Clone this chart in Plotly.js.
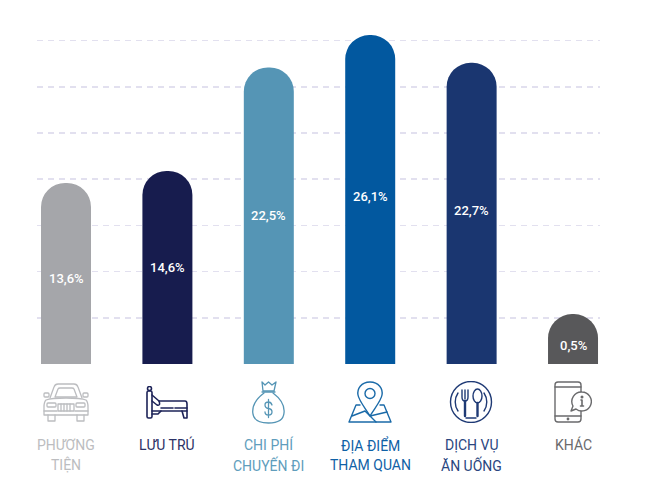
<!DOCTYPE html>
<html>
<head>
<meta charset="utf-8">
<script src="https://cdn.plot.ly/plotly-3.0.1.min.js"></script>
<style>html,body{margin:0;padding:0;background:#fff}</style>
</head>
<body>
<div id="chart" style="width:650px;height:485px"></div>
<script>
var categoryLines = [["PHƯƠNG","TIỆN"],["LƯU TRÚ"],["CHI PHÍ","CHUYẾN ĐI"],["ĐỊA ĐIỂM","THAM QUAN"],["DỊCH VỤ","ĂN UỐNG"],["KHÁC"]];
var barHeights = [19.6, 20.9, 32.1, 35.6, 32.6, 5.4];
var valueLabels = ["13,6%","14,6%","22,5%","26,1%","22,7%","0,5%"];
var barColors = ["#a5a6aa","#171c4e","#5595b5","#02589f","#1a3670","#58585a"];
var textColors = ["#bcbdc0","#2c3266","#609dbc","#0f61a6","#2a4680","#6a6a6c"];

var W=650,H=485,L=37,R=600,T=30,B=364;
function px(x){return (x-L)/(R-L);}
function py(y){return (B-y)/(B-T);}

var icons = [
 {x:43,y:383,w:46,h:39,c:"#bcbdc0",sw:1.3,body:
  '<path d="M7 15L11 4Q12 1 15 1H31Q34 1 35 4L39 15"/><path d="M12 14L15 6Q15.5 5 17 5H29Q30.5 5 31 6L34 14Z"/>'+
  '<path d="M3 17Q8 15 23 15Q38 15 43 17Q45 19 45 24V32H1V24Q1 19 3 17Z"/>'+
  '<rect x="15" y="21" width="16" height="7"/><path d="M18 21V28M21 21V28M24 21V28M27 21V28"/>'+
  '<rect x="4" y="20" width="9" height="4" rx="1"/><rect x="33" y="20" width="9" height="4" rx="1"/>'+
  '<path d="M1 28H14M32 28H45"/><path d="M5 32V38H12V32M34 32V38H41V32"/>'+
  '<rect x="1" y="10" width="5" height="4" rx="1"/><rect x="40" y="10" width="5" height="4" rx="1"/>'},
 {x:146,y:386,w:43,h:34,c:"#1d2358",sw:1.6,body:
  '<circle cx="3.5" cy="2.5" r="2"/><rect x="1" y="5" width="5" height="27" rx="1.5"/>'+
  '<path d="M6 9L13 15Q15 20 11 19L6 15"/><path d="M13 15H39Q41 15 41 18V25H6"/>'+
  '<path d="M6 28H12L15 25"/><path d="M36 25L38 32H41V25"/><path d="M15 22H41" stroke-dasharray="12 2"/>'},
 {x:252,y:381,w:33,h:43,c:"#5595b5",sw:1.3,body:
  '<path d="M10 1L13 4L16.5 1L20 4L24 1L22 10H11Z"/><path d="M10 11H23"/>'+
  '<path d="M12 12C4 18 0 24 .8 32C1.5 39 7 42 16.5 42C26 42 31.5 39 32 32C33 24 29 18 21 12"/>'+
  '<path d="M20 24Q19 21 16.5 21Q13 21 13 24Q13 27 16.5 27.5Q20 28 20 31Q20 34 16.5 34Q13 34 13 31M16.5 18.5V36.5"/>'},
 {x:348,y:381,w:44,h:42,c:"#1a6aa8",sw:1.4,body:
  '<path d="M22 1C13 1 9 8 10 14C11 20 18 28 22 35C26 28 33 20 34 14C35 8 31 1 22 1Z"/><circle cx="22" cy="12.5" r="5"/>'+
  '<path d="M12 24H8L1 41H43L36 24H32"/><path d="M4 35L17 30L28 41M22 35L39 31"/>'},
 {x:449,y:381,w:44,h:42,c:"#1f3a75",sw:1.4,body:
  '<circle cx="22" cy="21" r="20.5"/><path d="M9 12A16 16 0 0 0 9 30M35 12A16 16 0 0 1 35 30M17 37H27"/>'+
  '<path d="M13 9V16Q13 20 16 20Q19 20 19 16V9M16 9V18" /><path d="M16 20V35" stroke-width="2.4"/>'+
  '<ellipse cx="28.5" cy="15" rx="4.5" ry="7"/><path d="M28.5 22V35" stroke-width="2.4"/>'},
 {x:554,y:381,w:38,h:43,c:"#6a6a6c",sw:1.4,body:
  '<rect x="1" y="1" width="26" height="40" rx="3"/><path d="M1 6H27M1 35H27"/><circle cx="14" cy="38" r=".7"/>'+
  '<path d="M28 11A9.500 9.500 0 1 1 22 28L17 30L19 25A9.500 9.500 0 0 1 28 11Z" fill="#fff"/>'+
  '<path d="M28 19V25M26.500 25H29.500M27 19H28" stroke-width="1.600"/><circle cx="28" cy="16" r=".8"/>'}
];

function iconImage(ic){
  var svg='<svg xmlns="http://www.w3.org/2000/svg" width="'+ic.w+'" height="'+ic.h+'" viewBox="0 0 '+ic.w+' '+ic.h+'">'+
    '<g fill="none" stroke="'+ic.c+'" stroke-width="'+ic.sw+'" stroke-linejoin="round" stroke-linecap="round">'+ic.body+'</g></svg>';
  return {source:'data:image/svg+xml;charset=utf-8,'+encodeURIComponent(svg),
    xref:'paper',yref:'paper',x:px(ic.x),y:py(ic.y),sizex:ic.w/(R-L),sizey:ic.h/(B-T),
    xanchor:'left',yanchor:'top',sizing:'stretch',layer:'above'};
}

var xs = barHeights.map(function(_,i){return i;});
var valueShift = [-5,0,0,3,3,-6];
var annotations = [];
valueLabels.forEach(function(t,i){
  annotations.push({x:i,y:barHeights[i]/2,xref:'x',yref:'y',text:t,showarrow:false,yshift:valueShift[i],
    font:{family:'Roboto, sans-serif',size:13,color:'#fff',weight:500},xanchor:'center',yanchor:'middle'});
});
categoryLines.forEach(function(lines,i){
  lines.forEach(function(t,j){
    annotations.push({x:i,xref:'x',y:py(444.5+j*20.5),yref:'paper',text:t,showarrow:false,
      font:{family:'Roboto, sans-serif',size:14,color:textColors[i]},xanchor:'center',yanchor:'middle'});
  });
});

Plotly.newPlot('chart',[{
  type:'bar',x:xs,y:barHeights,width:0.493,
  marker:{color:barColors,cornerradius:25,line:{width:0}},hoverinfo:'skip'
}],{
  width:W,height:H,showlegend:false,paper_bgcolor:'#fff',plot_bgcolor:'#fff',
  margin:{l:L,r:W-R,t:T,b:H-B,pad:0},
  xaxis:{type:'linear',range:[-0.286,5.266],showgrid:false,zeroline:false,showticklabels:false,ticks:'',showline:false},
  yaxis:{range:[0,36.15],dtick:5,tick0:0,showgrid:true,gridcolor:'#e2e0ef',gridwidth:1.5,griddash:'6px,5px',zeroline:false,showticklabels:false,ticks:'',showline:false},
  annotations:annotations,
  images:icons.map(iconImage)
},{displayModeBar:false,staticPlot:true});
</script>
</body>
</html>
